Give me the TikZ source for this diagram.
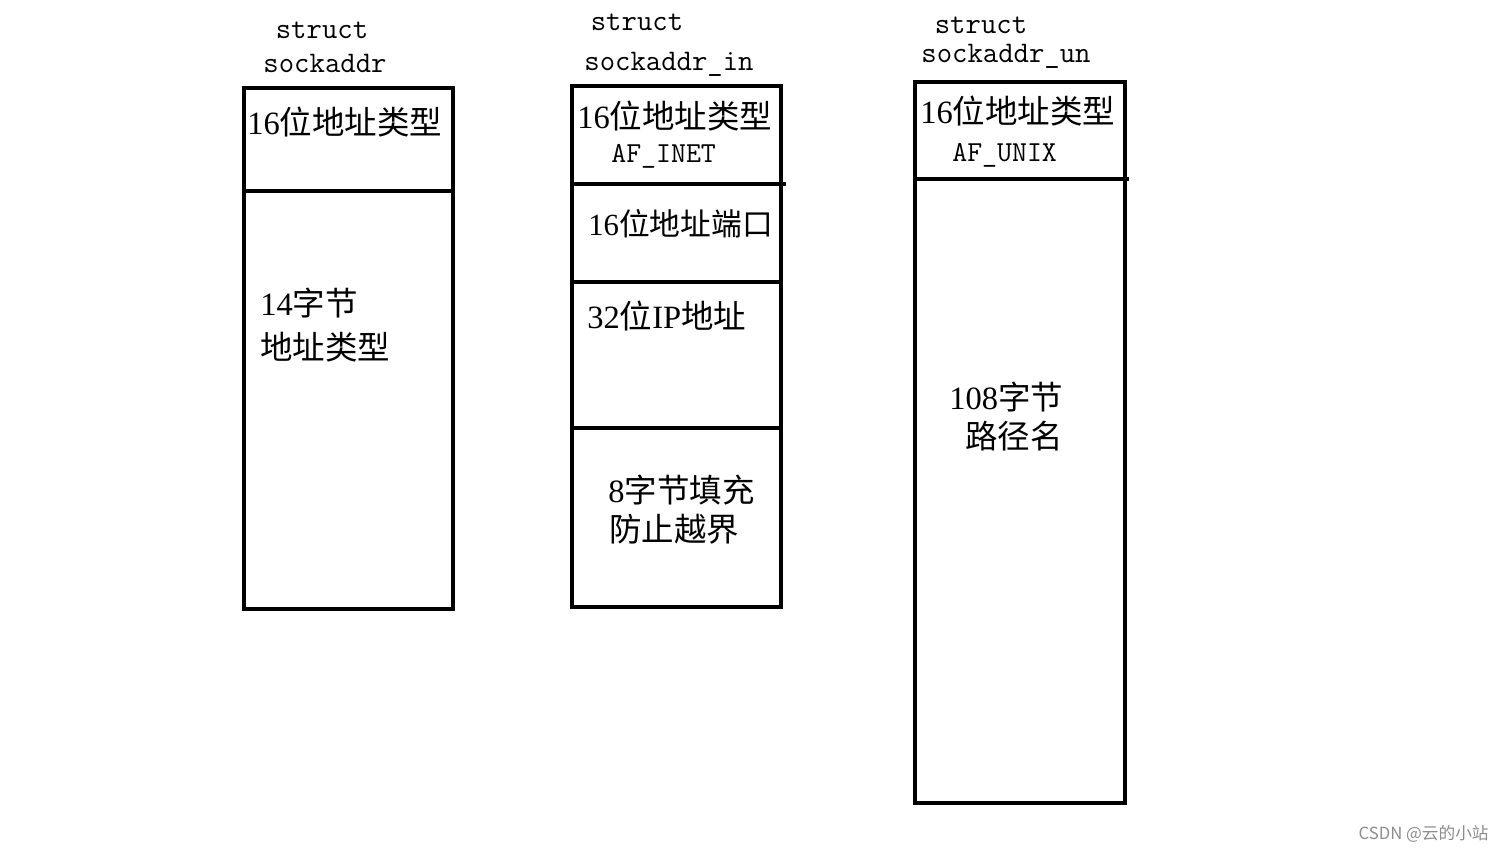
\documentclass[tikz,border=0pt]{standalone}
\usepackage{fontspec}
\setmainfont{Liberation Serif}
\newfontfamily\cjk{Noto Sans CJK SC}
\newcommand{\zh}[1]{{\cjk #1}}
\usetikzlibrary{positioning}

\begin{document}
\begin{tikzpicture}[
  x=0.02cm, y=-0.02cm,
  cell/.style={draw=black, line width=2pt},
  title/.style={font=\fontsize{17pt}{19pt}\selectfont\ttfamily, inner sep=0pt},
  field/.style={font=\fontsize{18.5pt}{22pt}\selectfont, anchor=west, inner sep=0pt},
  tag/.style={font=\fontsize{16.5pt}{19pt}\selectfont\ttfamily, anchor=west, inner sep=0pt},
]
  \useasboundingbox (0,0) rectangle (1505,853);

  % Titles
  \node[title] (sa1) at (322,30) {struct};
  \node[title] (sa2) at (325,63) {sockaddr};
  \node[title] (in1) at (637,22) {struct};
  \node[title] (in2) at (669,64) {sockaddr\_in};
  \node[title] (un1) at (981,25) {struct};
  \node[title] (un2) at (1006,56) {sockaddr\_un};

  % Boxes
  \draw[cell] (244,88) rectangle (453,609);
  \draw[cell] (244,191) -- (453,191);

  \draw[cell] (572,86) rectangle (781,607);
  \draw[cell] (572,184) -- (786,184);
  \draw[cell] (572,282) -- (781,282);
  \draw[cell] (572,428) -- (781,428);

  \draw[cell] (915,82) rectangle (1125,803);
  \draw[cell] (915,179) -- (1129,179);

  % Fields
  \node[field] (safam) at (247,122) {16\zh{位地址类型}};
  \node[field] (sadata) at (260,303) {14\zh{字节}};
  \node[field] (sadata2) at (260,347) {\zh{地址类型}};

  \node[field] (infam) at (577,116) {16\zh{位地址类型}};
  \node[tag] (inaf) at (611,156) {AF\_INET};
  \node[field, font=\fontsize{17.5pt}{21pt}\selectfont] (inport) at (588,224) {16\zh{位地址端口}};
  \node[field] (inaddr) at (587,316) {32\zh{位}IP\zh{地址}};
  \node[field] (inzero) at (608,490) {8\zh{字节填充}};
  \node[field] (inzero2) at (609,529) {\zh{防止越界}};

  \node[field] (unfam) at (920,111) {16\zh{位地址类型}};
  \node[tag] (unaf) at (952,155) {AF\_UNIX};
  \node[field] (unpath) at (949,397) {108\zh{字节}};
  \node[field] (unpath2) at (965,436) {\zh{路径名}};

  % Watermark
  \node[anchor=east, inner sep=0pt, text=black!45, font=\cjk\fontsize{9.5pt}{11pt}\selectfont]
    (mark) at (1489,834) {CSDN @云的小站};
\end{tikzpicture}
\end{document}
